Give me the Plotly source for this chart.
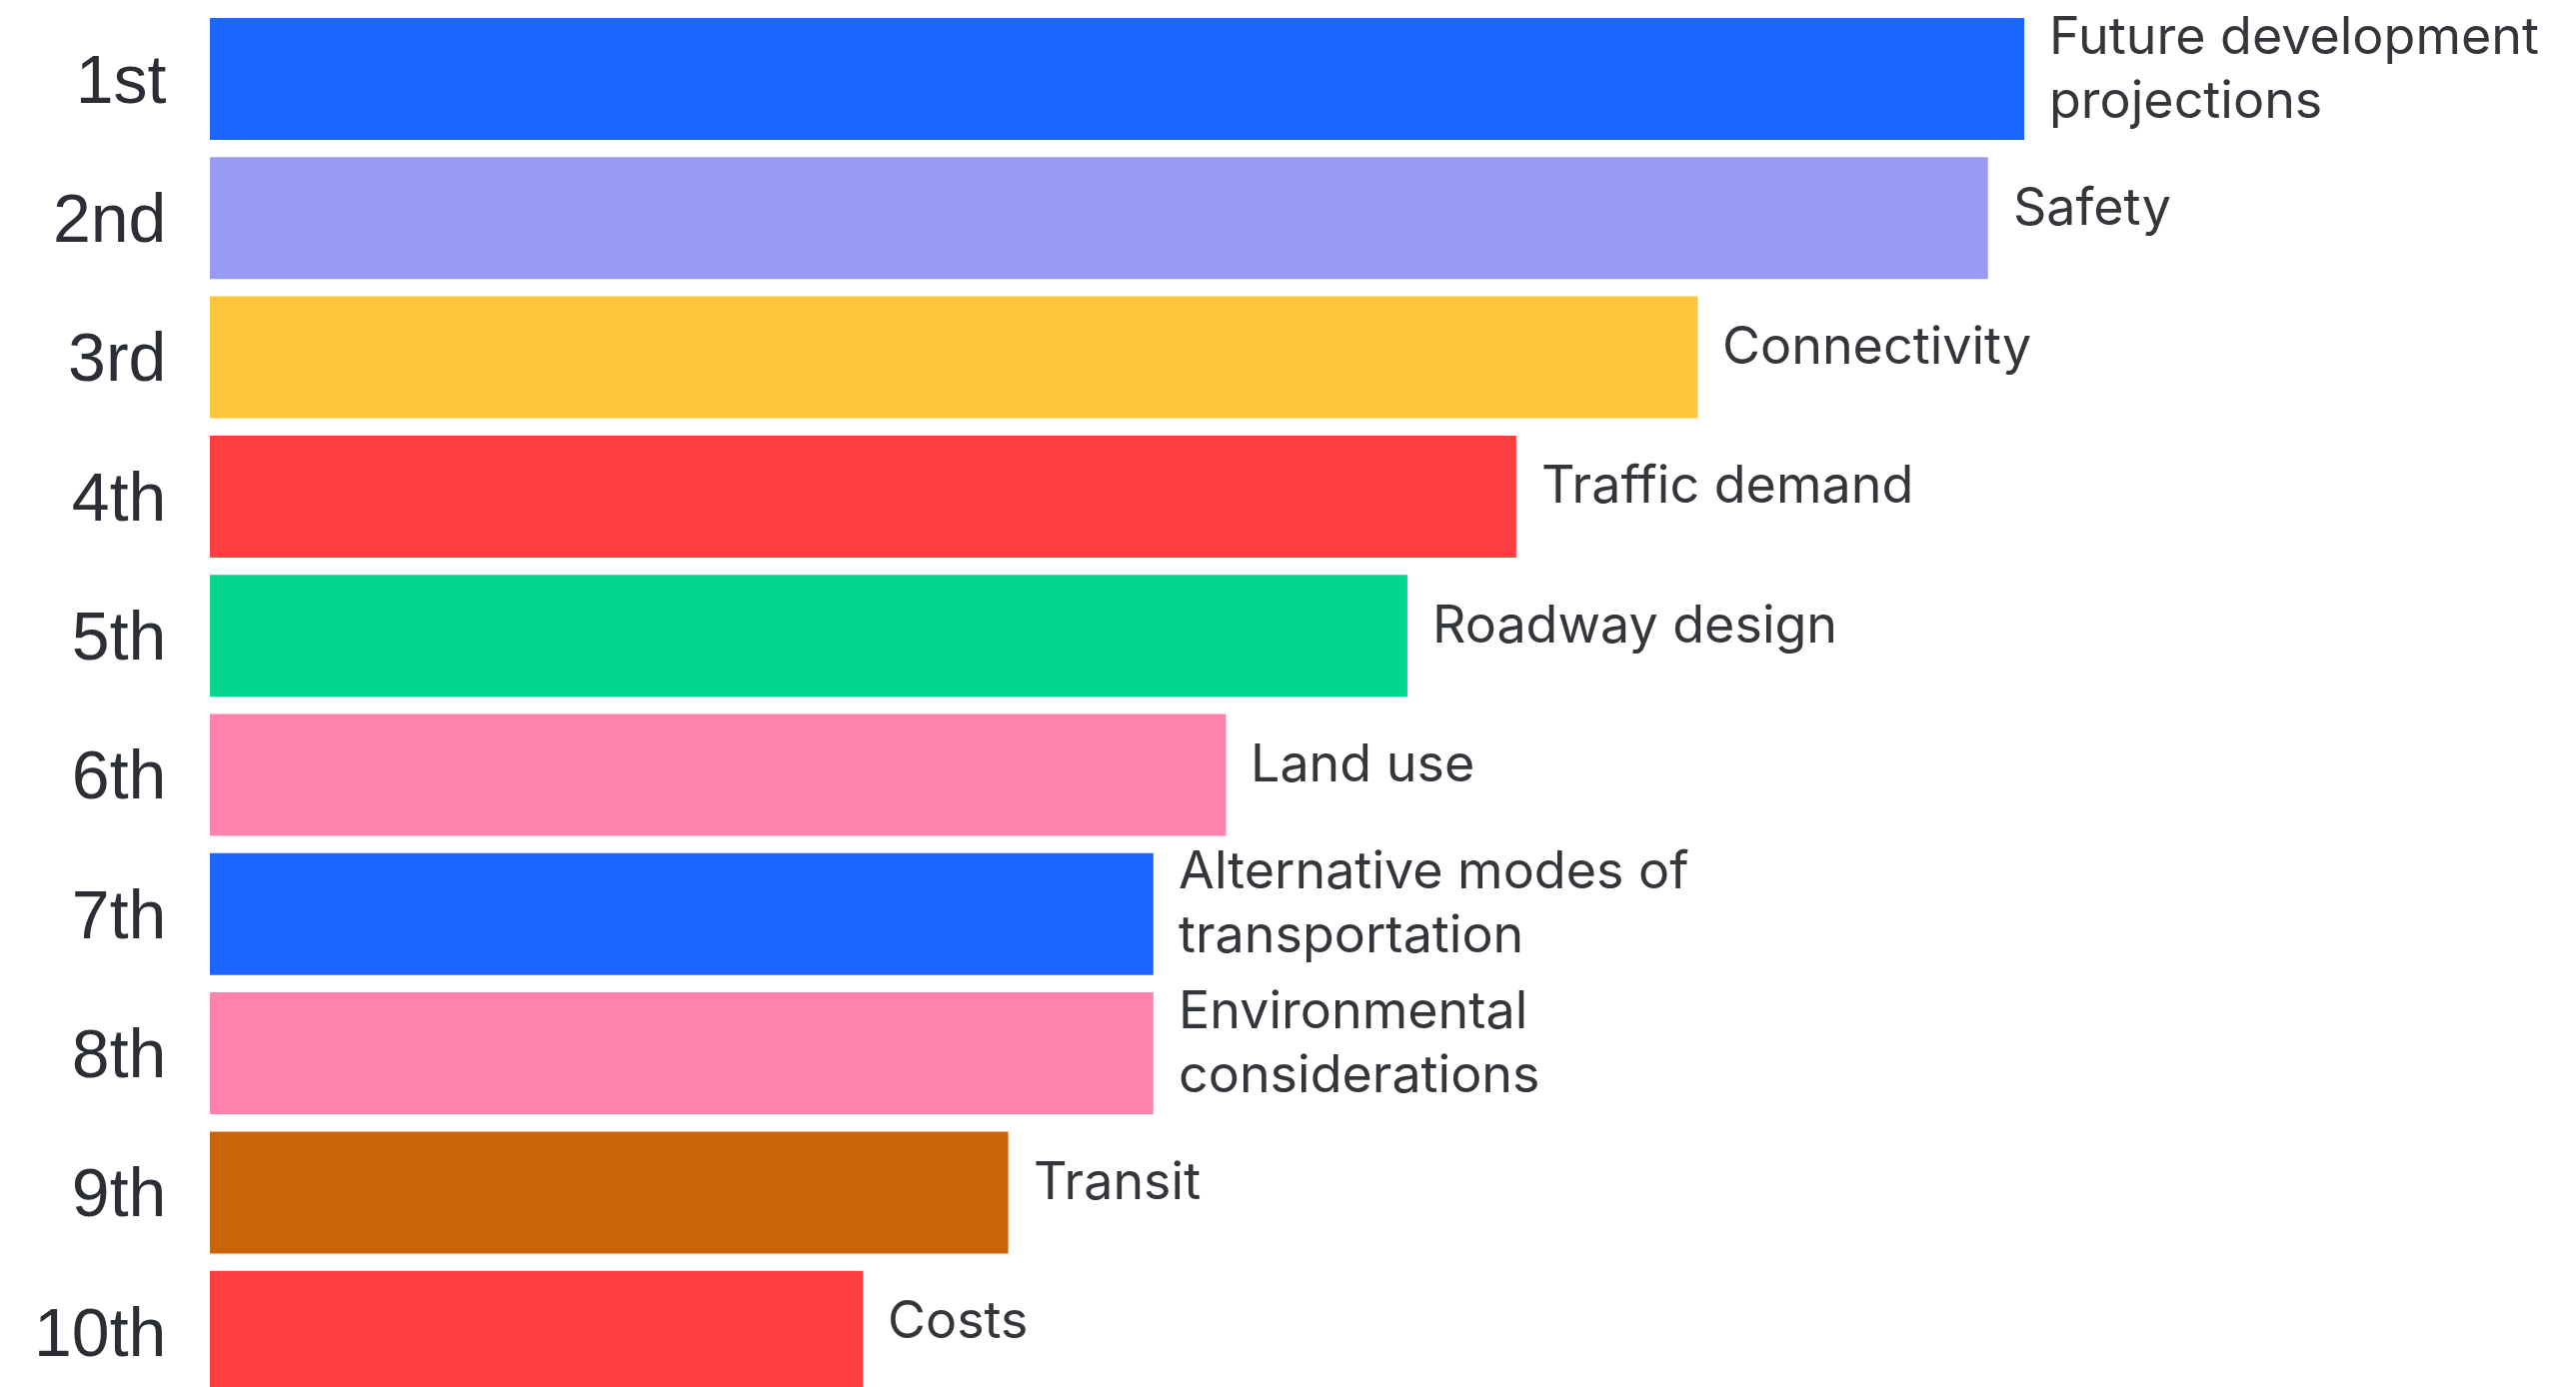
import plotly.graph_objects as go

ranks = ["1st", "2nd", "3rd", "4th", "5th", "6th", "7th", "8th", "9th", "10th"]
labels = [
    "Future development<br>projections",
    "Safety",
    "Connectivity",
    "Traffic demand",
    "Roadway design",
    "Land use",
    "Alternative modes of<br>transportation",
    "Environmental<br>considerations",
    "Transit",
    "Costs",
]
scores = [100, 98, 82, 72, 66, 56, 52, 52, 44, 36]
colors = ["#1A66FF", "#979BF3", "#FFC53A", "#FF3F3F", "#03D68F",
          "#FF82AD", "#1A66FF", "#FF82AD", "#C8650B", "#FF3F3F"]

fig = go.Figure(go.Bar(
    x=scores, y=ranks, orientation="h",
    marker=dict(color=colors, line=dict(width=0)),
    hoverinfo="skip",
))

LINE_GAP = 64   # px between label lines
BASE_SHIFT = 12  # label block sits slightly above bar centre
for r, s, lab in zip(ranks, scores, labels):
    lines = lab.split("<br>")
    n = len(lines)
    for i, line in enumerate(lines):
        offset = ((n - 1) / 2 - i) * LINE_GAP
        fig.add_annotation(
            x=s, y=r, text=line, showarrow=False,
            xanchor="left", yanchor="middle", align="left",
            xshift=24, yshift=BASE_SHIFT + offset, borderpad=0,
            font=dict(family="Inter", size=52, color="#33363b"),
        )

fig.update_layout(
    width=2569, height=1380,
    margin=dict(l=202, r=0, t=0, b=0),
    paper_bgcolor="white", plot_bgcolor="white",
    bargap=0.124,
    showlegend=False,
    xaxis=dict(range=[0, 130.41], visible=False, fixedrange=True),
    yaxis=dict(
        type="category", range=[9.397, -0.5097],
        showgrid=False, zeroline=False, showline=False,
        ticks="outside", ticklen=29, tickcolor="rgba(0,0,0,0)",
        tickfont=dict(family="Liberation Sans", size=68, color="#2b2e35"),
    ),
)

fig.write_html("out.html")
